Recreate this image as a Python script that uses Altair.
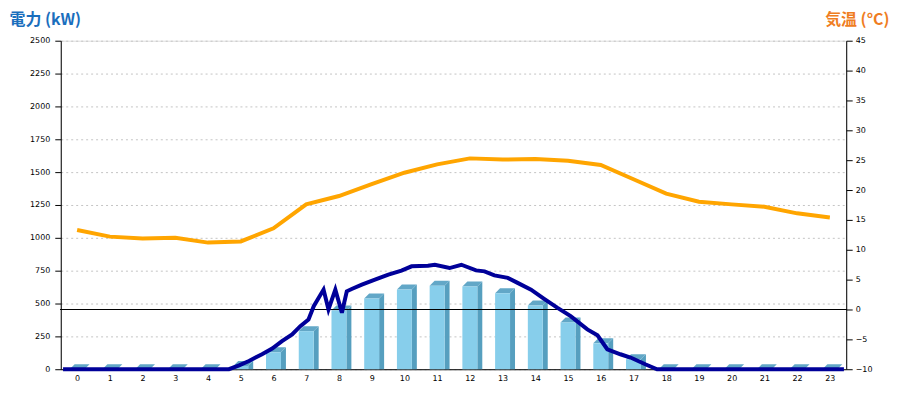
import altair as alt
import pandas as pd

# ---------------- data ----------------
hours = list(range(24))
power_kw = [0, 0, 0, 0, 0, 25, 129, 290, 447, 538, 606, 636,
            629, 578, 485, 356, 197, 76, 0, 0, 0, 0, 0, 0]
temp_c = [13.3, 12.2, 11.9, 12.0, 11.2, 11.4, 13.6, 17.6, 19.0, 21.0, 22.9, 24.3,
          25.3, 25.1, 25.2, 24.9, 24.2, 21.8, 19.4, 18.05, 17.6, 17.2, 16.1, 15.4]
inst_h = [-0.43, 4.64, 4.95, 5.25, 5.65, 5.96, 6.26, 6.57, 6.82, 7.07, 7.23, 7.53,
          7.68, 7.89, 8.09, 8.24, 8.39, 8.70, 9.10, 9.51, 9.91, 10.22, 10.72, 10.93,
          11.38, 11.74, 12.19, 12.45, 12.75, 13.16, 13.46, 13.87, 14.27, 14.68, 15.08,
          15.59, 15.90, 16.20, 16.60, 16.91, 17.36, 17.72, 23.43]
inst_kw = [0, 0, 30, 63, 114, 157, 214, 265, 328, 379, 480, 606,
           455, 606, 430, 593, 611, 644, 682, 720, 750, 783, 788, 795,
           770, 795, 752, 745, 714, 695, 657, 606, 536, 467, 404,
           303, 258, 152, 114, 89, 38, 0, 0]
kw_ticks = list(range(0, 2501, 250))
temp_ticks = list(range(-10, 46, 5))

# ---------------- layout / style ----------------
W, H = 789, 330
PX_PER_H = W / 24.0
HALF = 7.5 / PX_PER_H          # half front-face width (hours)
DX = 5 / PX_PER_H              # 3D depth, horizontal (hours)
DY = 5 * 2500 / H              # 3D depth, vertical (kW)
LABEL_FONT = "DejaVu Sans"

xscale = alt.Scale(domain=[-0.5, 23.5], nice=False, zero=False)
yP = alt.Scale(domain=[0, 2500], nice=False, zero=False)
yT = alt.Scale(domain=[-10, 45], nice=False, zero=False)

x_axis = alt.Axis(orient="bottom", values=hours, ticks=False, tickSize=0,
                  domainColor="black", labelFont=LABEL_FONT, labelFontSize=8,
                  labelColor="black", labelPadding=5, grid=False, title=None,
                  labelFlush=False)
left_axis = alt.Axis(orient="left", values=kw_ticks, format="d", tickSize=6,
                     tickColor="black", domainColor="black", labelFont=LABEL_FONT,
                     labelFontSize=8, labelColor="black", labelPadding=5, grid=True,
                     gridColor="#c4c4c4", gridDash=[2, 3],
                     title="電力 (kW)", titleAngle=0, titleX=-52, titleY=-16,
                     titleAlign="left", titleBaseline="alphabetic",
                     titleFont="Noto Sans CJK JP", titleFontSize=16,
                     titleFontWeight="bold", titleColor="#1a6ebd")
right_axis = alt.Axis(orient="right", values=temp_ticks, format="d", tickSize=6,
                      tickColor="black", domainColor="black", labelFont=LABEL_FONT,
                      labelFontSize=8, labelColor="black", labelPadding=3, grid=False,
                      title="気温 (°C)", titleAngle=0, titleX=43, titleY=-16,
                      titleAlign="right", titleBaseline="alphabetic",
                      titleFont="Noto Sans CJK JP", titleFontSize=16,
                      titleFontWeight="bold", titleColor="#ef7d22")

# ---------------- tables built from the arrays ----------------
bars = pd.DataFrame({"h": hours, "v": power_kw})
bars["x1"] = bars["h"] - HALF
bars["x2"] = bars["h"] + HALF
bars["zero"] = 0

side_rows, top_rows = [], []
for h, v in zip(hours, power_kw):
    if v > 0:
        side_rows.append({"h": h, "x": h + HALF, "y": v, "y2": 0})
        side_rows.append({"h": h, "x": h + HALF + DX, "y": v + DY, "y2": 0})
    top_rows.append({"h": h, "y": v, "x": h - HALF, "x2": h + HALF})
    top_rows.append({"h": h, "y": v + DY, "x": h - HALF + DX, "x2": h + HALF + DX})
side_df = pd.DataFrame(side_rows)
top_df = pd.DataFrame(top_rows)

temp_df = pd.DataFrame({"h": hours, "t": temp_c})
inst_df = pd.DataFrame({"h": inst_h, "kw": inst_kw})

# ---------------- marks ----------------
side = alt.Chart(side_df).mark_area(orient="vertical", color="#569fbf").encode(
    x=alt.X("x:Q", scale=xscale, axis=x_axis),
    y=alt.Y("y:Q", scale=yP, axis=left_axis),
    y2="y2:Q",
    detail="h:N",
)
top = alt.Chart(top_df).mark_area(orient="horizontal", color="#62a7c7").encode(
    y=alt.Y("y:Q", scale=yP, axis=left_axis),
    x=alt.X("x:Q", scale=xscale, axis=x_axis),
    x2="x2:Q",
    detail="h:N",
)
front = alt.Chart(bars).mark_rect(color="#87ceeb").encode(
    x=alt.X("x1:Q", scale=xscale, axis=x_axis),
    x2="x2:Q",
    y=alt.Y("v:Q", scale=yP, axis=left_axis),
    y2="zero:Q",
)
bar_group = alt.layer(side, top, front)

zero_rule = alt.Chart(temp_df).mark_rule(color="black", strokeWidth=1).encode(
    y=alt.Y(datum=0, scale=yT, axis=right_axis),
)
temp_line = alt.Chart(temp_df).mark_line(color="#ffa500", strokeWidth=4).encode(
    x=alt.X("h:Q", scale=xscale, axis=x_axis),
    y=alt.Y("t:Q", scale=yT, axis=right_axis),
)
temp_group = alt.layer(zero_rule, temp_line)

inst_line = alt.Chart(inst_df).mark_line(color="#000099", strokeWidth=4).encode(
    x=alt.X("h:Q", scale=xscale, axis=x_axis),
    y=alt.Y("kw:Q", scale=yP, axis=None),
)

chart = alt.layer(bar_group, temp_group, inst_line).resolve_scale(
    y="independent"
).properties(
    width=W, height=H,
    autosize=alt.AutoSizeParams(type="none"),
    padding={"left": 53, "top": 32, "right": 46, "bottom": 20},
).configure_view(stroke=None).configure(background="white")

chart.save("out.html", embed_options={"renderer": "svg", "actions": False})
